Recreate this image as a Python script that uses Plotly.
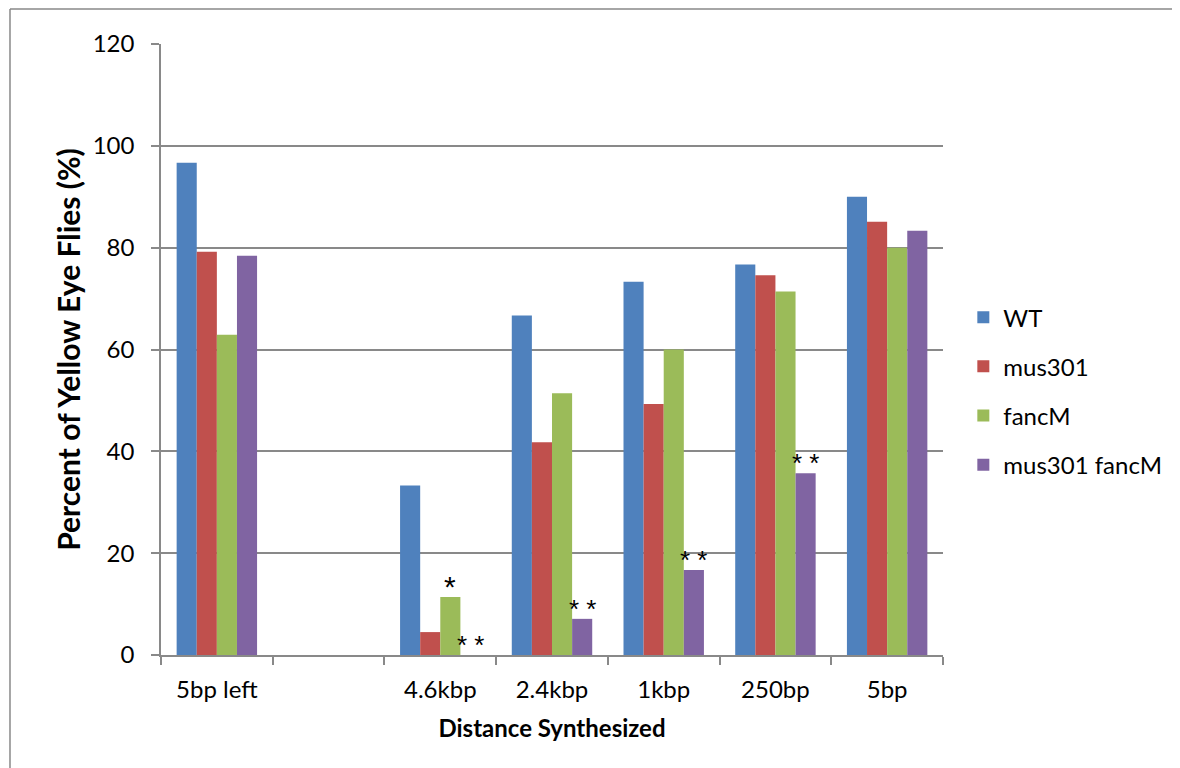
import plotly.graph_objects as go

categories = ["5bp left", " ", "4.6kbp", "2.4kbp", "1kbp", "250bp", "5bp"]
wt = [96.7, None, 33.3, 66.7, 73.3, 76.7, 90.0]
mus301 = [79.2, None, 4.5, 41.8, 49.3, 74.6, 85.1]
fancm = [62.9, None, 11.4, 51.4, 60.0, 71.4, 80.0]
mus301_fancm = [78.4, None, 0.0, 7.1, 16.7, 35.7, 83.3]
fancm_marks = ["", "", "*", "", "", "", ""]
double_marks = ["", "", "* *", "* *", "* *", "* *", ""]

series = [
    ("WT", wt, "#4F81BD"),
    ("mus301", mus301, "#C0504D"),
    ("fancM", fancm, "#9BBB59"),
    ("mus301 fancM", mus301_fancm, "#8064A2"),
]

FONT = "Lato"
fig = go.Figure()
for i, (name, vals, color) in enumerate(series):
    fig.add_trace(go.Bar(x=categories, y=vals, name=name,
                         marker=dict(color=color, line=dict(width=0)),
                         legendgroup=f"g{i}"))

# significance marks placed over the fancM (index 2) and double mutant (index 3) bars
BAR_PX = 20.1
annotations = []
for marks, vals, idx, size in [(fancm_marks, fancm, 2, 30), (double_marks, mus301_fancm, 3, 26)]:
    for cat, m, v in zip(categories, marks, vals):
        if m:
            annotations.append(dict(
                x=cat, y=v, xref="x", yref="y", text=m, showarrow=False,
                xanchor="center", yanchor="middle",
                xshift=(idx - 1.5) * BAR_PX, yshift=10,
                font=dict(family="Liberation Sans", size=size, color="black"),
            ))

border = dict(color="#898989", width=1.5)
fig.update_layout(
    width=1172, height=760,
    margin=dict(l=153, r=237, t=36, b=113),
    paper_bgcolor="white", plot_bgcolor="white",
    barmode="group", bargap=0.28, bargroupgap=0,
    font=dict(family=FONT, size=24, color="black"),
    showlegend=True,
    legend=dict(x=1.026, y=0.432, xanchor="left", yanchor="middle",
                font=dict(family=FONT, size=24), tracegroupgap=15, itemwidth=30),
    xaxis=dict(
        type="category", categoryorder="array", categoryarray=categories,
        showline=True, linecolor="#898989", linewidth=1.5,
        ticks="outside", tickson="boundaries", ticklen=8, tickcolor="#898989", tickwidth=1.5,
        ticklabelstandoff=12,
        tickfont=dict(family=FONT, size=24),
        showgrid=False,
        title=dict(text="<b>Distance Synthesized</b>", font=dict(family=FONT, size=24), standoff=19),
    ),
    yaxis=dict(
        range=[0, 120], dtick=20, showline=True, linecolor="#898989", linewidth=1.5,
        ticks="outside", ticklen=8, tickcolor="#898989", tickwidth=1.5,
        showgrid=True, gridcolor="#898989", gridwidth=1.5,
        ticklabelstandoff=12,
        tickfont=dict(family=FONT, size=24),
        zeroline=False,
        title=dict(text="<b>Percent of Yellow Eye Flies (%)</b>", font=dict(family=FONT, size=30), standoff=3),
    ),
    annotations=annotations,
    shapes=[
        dict(type="line", xref="paper", yref="paper", x0=-0.1931, x1=-0.1931, y0=-0.2, y1=1.0573, line=border),
        dict(type="line", xref="paper", yref="paper", x0=-0.1931, x1=1.31, y0=1.0573, y1=1.0573, line=border),
    ],
)

fig.write_html("out.html")
